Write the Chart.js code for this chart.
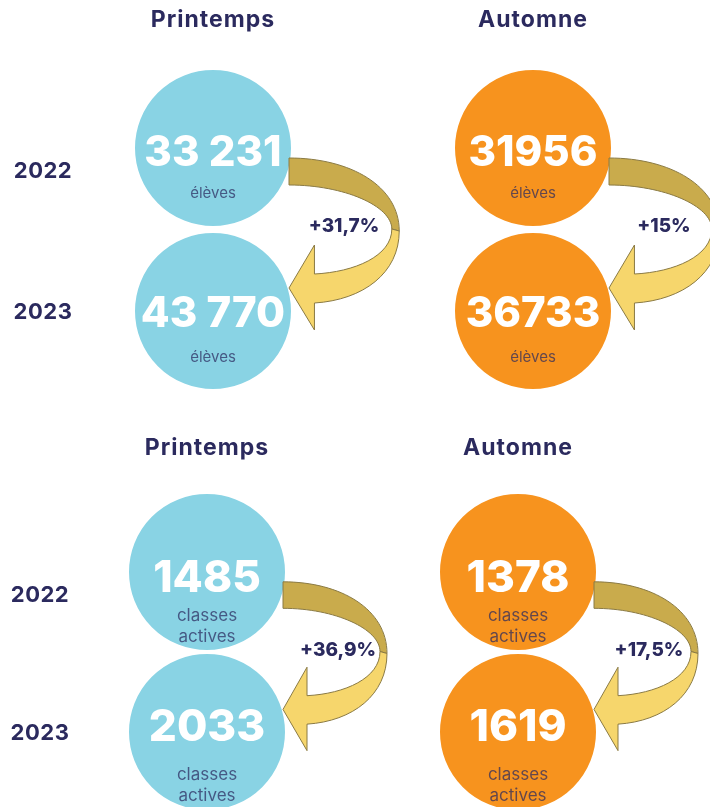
<!DOCTYPE html>
<html>
<head>
<meta charset="utf-8">
<script src="https://cdn.jsdelivr.net/npm/chart.js@4/dist/chart.umd.min.js"></script>
<style>
  body { margin: 0; background: #fff; width: 710px; height: 807px; overflow: hidden; position: relative; }
  canvas { position: absolute; left: 0; }
  #c1 { top: 0; }
  #c2 { top: 410px; }
</style>
</head>
<body>
<canvas id="c1" width="710" height="410"></canvas>
<canvas id="c2" width="710" height="397"></canvas>
<script>
var seasons = ['Printemps', 'Automne'];
var years = ['2022', '2023'];

// per season: [2022, 2023]
var eleves = [[33231, 43770], [31956, 36733]];
var elevesText = [['33 231', '43 770'], ['31956', '36733']];
var elevesGrowth = ['+31,7%', '+15%'];

var classes = [[1485, 2033], [1378, 1619]];
var classesText = [['1485', '2033'], ['1378', '1619']];
var classesGrowth = ['+36,9%', '+17,5%'];

var seasonColors = ['#89d3e4', '#f7931e'];
var NAVY = '#2b2a5e';
var R = 79;

// linear range so that value 0 sits at p0 px and 1 at p1 px
function range(p0, p1, size) {
  var u = p1 - p0;
  return { min: -p0 / u, max: (size - p0) / u };
}

function drawArrow(ctx, ox, oy, kx, k) {
  function m(x, y) { ctx.moveTo(ox + x * kx, oy + y * k); }
  function l(x, y) { ctx.lineTo(ox + x * kx, oy + y * k); }
  function b(a, c, d, e, f, g) {
    ctx.bezierCurveTo(ox + a * kx, oy + c * k, ox + d * kx, oy + e * k, ox + f * kx, oy + g * k);
  }
  ctx.save();
  ctx.lineWidth = 1;
  ctx.strokeStyle = '#8a7a44';
  // upper part, darker
  ctx.beginPath();
  m(0, 10);
  b(58, 10, 104, 38, 104, 83);
  l(97, 81);
  b(97, 58, 52, 37, 0, 37);
  ctx.closePath();
  ctx.fillStyle = '#c9ab4c';
  ctx.fill();
  ctx.stroke();
  // lower part with head
  ctx.beginPath();
  m(104, 83);
  b(104, 125, 70, 152, 24, 155);
  l(24, 182);
  l(0, 140);
  l(24, 97);
  l(24, 126);
  b(62, 124, 97, 108, 97, 81);
  ctx.closePath();
  ctx.fillStyle = '#f6d66c';
  ctx.fill();
  ctx.stroke();
  ctx.restore();
}

function makePanel(id, values, texts, growth, subLines, opt) {
  var datasets = seasons.map(function (s, i) {
    return {
      label: s,
      data: values[i].map(function (v, j) { return { x: i, y: j, v: v }; }),
      pointRadius: R,
      pointHoverRadius: R,
      backgroundColor: seasonColors[i],
      borderColor: '#fff',
      borderWidth: 2,
      clip: false
    };
  });

  var labelsPlugin = {
    id: 'labels' + id,
    afterDatasetsDraw: function (chart) {
      var ctx = chart.ctx;
      var xs = chart.scales.x, ys = chart.scales.y;
      var y1 = ys.getPixelForValue(0), y2 = ys.getPixelForValue(1);
      ctx.save();
      ctx.textAlign = 'center';

      seasons.forEach(function (s, i) {
        var cx = xs.getPixelForValue(i);
        drawArrow(ctx, cx + R - 3, y1, opt.arrowK, (y2 - y1) / 163);

        ctx.textBaseline = 'middle';
        ctx.fillStyle = NAVY;
        ctx.font = 'bold 23px Inter';
        ctx.letterSpacing = '1px';
        ctx.fillText(s, cx, y1 + opt.headerDy);
        ctx.letterSpacing = '0px';

        ctx.font = '800 19px Inter';
        ctx.fillText(growth[i], cx + R + 52, y1 + 78);

        years.forEach(function (yr, j) {
          var cy = ys.getPixelForValue(j);
          ctx.textBaseline = 'alphabetic';
          ctx.fillStyle = '#fff';
          ctx.font = '800 ' + opt.numSize + 'px Inter';
          ctx.fillText(texts[i][j], cx, cy + opt.numDy[j]);

          ctx.textBaseline = 'middle';
          ctx.fillStyle = 'rgba(43,42,94,0.72)';
          ctx.font = opt.subSize + 'px Inter';
          subLines.forEach(function (t, n) {
            ctx.fillText(t, cx, cy + opt.subDy[j] + n * 21);
          });
        });
      });

      ctx.fillStyle = NAVY;
      ctx.font = 'bold 22px Inter';
      ctx.letterSpacing = '0.5px';
      ctx.textBaseline = 'middle';
      years.forEach(function (yr, j) {
        var cy = ys.getPixelForValue(j);
        ctx.fillText(yr, opt.yearX, cy + (j === 0 ? 23 : 1));
      });
      ctx.restore();
    }
  };

  var canvas = document.getElementById(id);
  var xr = range(opt.x0, opt.x1, canvas.width);
  var yr = range(opt.y0, opt.y1, canvas.height);

  return new Chart(canvas.getContext('2d'), {
    type: 'scatter',
    data: { datasets: datasets },
    options: {
      responsive: false,
      animation: false,
      events: [],
      layout: { padding: 0, autoPadding: false },
      plugins: { legend: { display: false }, tooltip: { enabled: false } },
      scales: {
        x: { type: 'linear', display: false, min: xr.min, max: xr.max },
        y: { type: 'linear', display: false, reverse: true, min: yr.min, max: yr.max }
      }
    },
    plugins: [labelsPlugin]
  });
}

makePanel('c1', eleves, elevesText, elevesGrowth, ['élèves'], {
  x0: 213, x1: 533, y0: 148, y1: 311, arrowK: 1.06,
  headerDy: -128, numSize: 42, numDy: [18, 16], subSize: 15, subDy: [45, 46], yearX: 43
});

makePanel('c2', classes, classesText, classesGrowth, ['classes', 'actives'], {
  x0: 207, x1: 518, y0: 162, y1: 322, arrowK: 1.0,
  headerDy: -124, numSize: 44, numDy: [20, 9], subSize: 17, subDy: [44, 43], yearX: 40
});
</script>
</body>
</html>
